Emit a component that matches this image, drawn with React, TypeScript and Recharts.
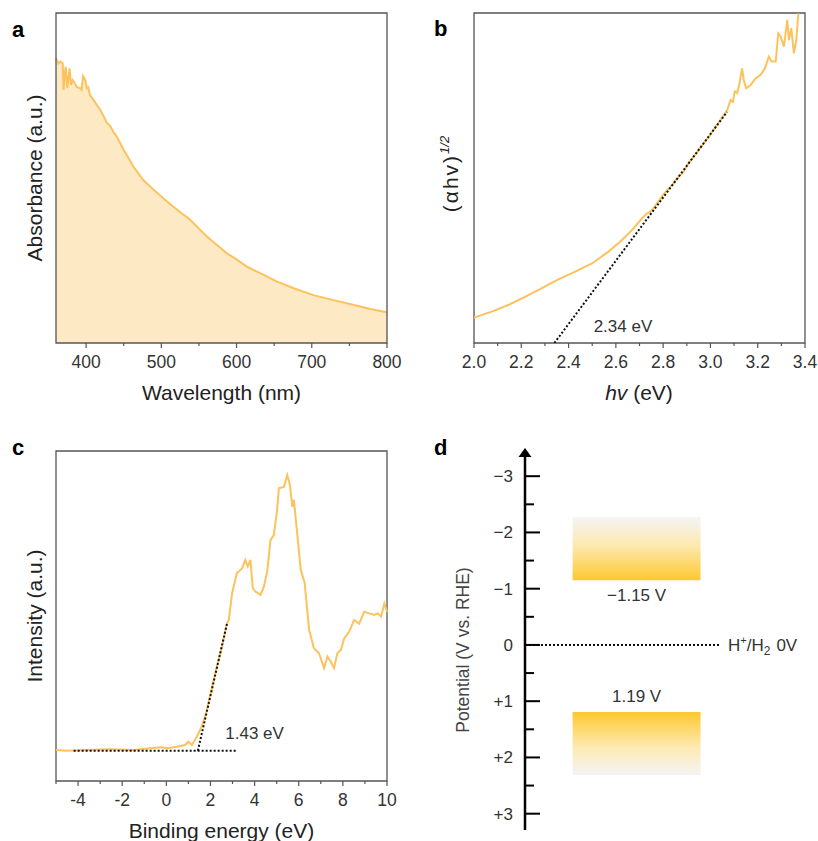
import React from "react";
import {
  AreaChart,
  Area,
  LineChart,
  Line,
  ComposedChart,
  XAxis,
  YAxis,
  ReferenceArea,
  ReferenceLine,
  ReferenceDot,
} from "recharts";

const FONT = '"Liberation Sans", Arial, sans-serif';
const ORANGE = "#fcc25c";
const FILL = "#fde9c4";
const FRAME = "#555";
const INK = "#333";

// (a) UV-vis absorbance
const wavelength = [
  360, 363, 366, 369, 370, 372, 373, 375, 378, 380, 382, 385, 388, 392, 394,
  396, 399, 401, 403, 405, 410, 419, 428, 432, 436, 441, 450, 454, 463, 476,
  490, 503, 516, 527, 536, 543, 552, 561, 574, 587, 601, 614, 632, 654, 676,
  702, 729, 756, 778, 800,
];
const absorbance = [
  0.863, 0.847, 0.853, 0.847, 0.767, 0.822, 0.837, 0.772, 0.832, 0.782, 0.797,
  0.787, 0.775, 0.772, 0.767, 0.809, 0.797, 0.772, 0.775, 0.752, 0.736, 0.706,
  0.666, 0.658, 0.64, 0.625, 0.585, 0.57, 0.534, 0.494, 0.464, 0.438, 0.413,
  0.393, 0.378, 0.363, 0.342, 0.322, 0.297, 0.272, 0.252, 0.231, 0.211, 0.186,
  0.166, 0.145, 0.13, 0.115, 0.103, 0.093,
];
const wlTicks = [400, 450, 500, 550, 600, 650, 700, 750, 800];
const wlLabels = [400, 500, 600, 700, 800];

// (b) Tauc plot
const photonEnergy = [
  2.0, 2.075, 2.145, 2.216, 2.287, 2.357, 2.428, 2.499, 2.569, 2.626, 2.668,
  2.711, 2.732, 2.742, 2.753, 2.774, 2.802, 2.838, 2.866, 2.887, 2.908, 2.951,
  2.993, 3.028, 3.057, 3.071, 3.078, 3.085, 3.095, 3.103, 3.113, 3.123, 3.134,
  3.141, 3.151, 3.17, 3.191, 3.212, 3.23, 3.247, 3.259, 3.276, 3.287, 3.297,
  3.311, 3.325, 3.332, 3.342, 3.353, 3.363, 3.372,
];
const tauc = [
  0.077, 0.095, 0.115, 0.14, 0.166, 0.193, 0.216, 0.241, 0.277, 0.312, 0.342,
  0.378, 0.393, 0.396, 0.403, 0.423, 0.451, 0.479, 0.504, 0.519, 0.545, 0.585,
  0.625, 0.661, 0.691, 0.706, 0.721, 0.736, 0.731, 0.762, 0.757, 0.787, 0.832,
  0.797, 0.772, 0.782, 0.802, 0.812, 0.832, 0.868, 0.853, 0.853, 0.938, 0.928,
  0.898, 0.979, 0.918, 0.954, 0.878, 0.918, 0.999,
];
const taucFitX = [2.34, 3.07];
const taucFitY = [0, 0.7];
const bandGap = 2.34;
const evTicks = [2.0, 2.1, 2.2, 2.3, 2.4, 2.5, 2.6, 2.7, 2.8, 2.9, 3.0, 3.1, 3.2, 3.3, 3.4];
const evLabels = [2.0, 2.2, 2.4, 2.6, 2.8, 3.0, 3.2, 3.4];

// (c) valence band spectrum
const bindingEnergy = [
  -5.0, -4.53, -3.62, -2.56, -1.5, -0.74, -0.21, 0.02, 0.47, 0.85, 1.0, 1.16,
  1.38, 1.61, 1.84, 2.07, 2.29, 2.52, 2.75, 2.83, 2.98, 3.2, 3.43, 3.58, 3.69,
  3.81, 3.92, 4.04, 4.27, 4.42, 4.57, 4.72, 4.87, 5.02, 5.1, 5.33, 5.48, 5.6,
  5.71, 5.78, 5.93, 6.09, 6.27, 6.47, 6.69, 6.92, 7.15, 7.3, 7.45, 7.6, 7.75,
  7.91, 8.06, 8.29, 8.51, 8.74, 8.97, 9.2, 9.42, 9.58, 9.73, 9.88, 10.0,
];
const intensity = [
  0.094, 0.092, 0.094, 0.096, 0.094, 0.099, 0.102, 0.099, 0.104, 0.109, 0.119,
  0.109, 0.134, 0.165, 0.215, 0.285, 0.346, 0.407, 0.477, 0.488, 0.569, 0.63,
  0.644, 0.67, 0.65, 0.67, 0.584, 0.574, 0.564, 0.589, 0.634, 0.73, 0.745,
  0.821, 0.887, 0.892, 0.927, 0.897, 0.831, 0.852, 0.75, 0.64, 0.6, 0.458,
  0.402, 0.387, 0.342, 0.377, 0.362, 0.342, 0.387, 0.397, 0.432, 0.453, 0.488,
  0.477, 0.513, 0.508, 0.503, 0.508, 0.498, 0.538, 0.513,
];
const vbBaseX = [-4.2, 3.15];
const vbBaseY = [0.092, 0.092];
const vbEdgeX = [1.43, 2.76];
const vbEdgeY = [0.092, 0.48];
const vbMax = 1.43;
const beTicks = [-5, -4, -3, -2, -1, 0, 1, 2, 3, 4, 5, 6, 7, 8, 9, 10];
const beLabels = [-4, -2, 0, 2, 4, 6, 8, 10];

// (d) band positions, V vs. RHE
const cbEdge = -1.15;
const vbEdge = 1.19;
const cbOuter = -2.27;
const vbOuter = 2.31;
const bandSpan = [1.7, 6.27];
const potTicks = [-3, -2.5, -2, -1.5, -1, -0.5, 0, 0.5, 1, 1.5, 2, 2.5, 3];

const absRows = wavelength.map((nm, i) => ({ x: nm, y: absorbance[i] }));
const taucRows = photonEnergy.map((e, i) => ({ x: e, y: tauc[i] }));
const taucFit = taucFitX.map((x, i) => ({ x, y: taucFitY[i] }));
const vbRows = bindingEnergy.map((e, i) => ({ x: e, y: intensity[i] }));
const vbBase = vbBaseX.map((x, i) => ({ x, y: vbBaseY[i] }));
const vbFit = vbEdgeX.map((x, i) => ({ x, y: vbEdgeY[i] }));
const bandRows = bandSpan.map((x) => ({ x, cb: cbEdge, vb: vbEdge }));

function BottomTick(props: any) {
  const { x, y, payload, labels, fmt } = props;
  const major = labels.includes(payload.value);
  return (
    <g>
      <line x1={x} x2={x} y1={y} y2={y + (major ? 5 : 3)} stroke={FRAME} strokeWidth={1.2} />
      {major && (
        <text x={x} y={y + 25} textAnchor="middle" fontSize={17.5} fill={INK}>
          {fmt(payload.value)}
        </text>
      )}
    </g>
  );
}

function PotentialTick(props: any) {
  const { x, y, payload } = props;
  const v = payload.value;
  const major = Number.isInteger(v);
  const label = v < 0 ? `\u2212${-v}` : v > 0 ? `+${v}` : "0";
  return (
    <g>
      <line x1={x} x2={x + (major ? 15 : 9)} y1={y} y2={y} stroke="#000" strokeWidth={2} />
      {major && (
        <text x={x - 12} y={y + 6} textAnchor="end" fontSize={17} fill={INK}>
          {label}
        </text>
      )}
    </g>
  );
}

const dotted = { stroke: "#111", strokeWidth: 2, strokeDasharray: "2 2" };

function AbsorbancePanel() {
  return (
    <AreaChart width={410} height={410} data={absRows} margin={{ top: 13, left: 56, right: 23, bottom: 37 }}>
      <XAxis
        type="number"
        dataKey="x"
        domain={[360, 800]}
        ticks={wlTicks}
        interval={0}
        height={30}
        axisLine={false}
        tickLine={false}
        tickSize={0}
        tickMargin={0}
        tick={(p: any) => <BottomTick {...p} labels={wlLabels} fmt={String} />}
      />
      <YAxis hide domain={[0, 1]} />
      <Area type="linear" dataKey="y" stroke={ORANGE} strokeWidth={2} fill={FILL} fillOpacity={1} isAnimationActive={false} />
      <ReferenceArea x1={360} x2={800} y1={0} y2={1} fill="none" stroke={FRAME} strokeWidth={1.3} />
    </AreaChart>
  );
}

function TaucPanel() {
  return (
    <LineChart width={410} height={410} margin={{ top: 13, left: 66, right: 13, bottom: 37 }}>
      <XAxis
        type="number"
        dataKey="x"
        domain={[2.0, 3.4]}
        ticks={evTicks}
        interval={0}
        height={30}
        axisLine={false}
        tickLine={false}
        tickSize={0}
        tickMargin={0}
        tick={(p: any) => <BottomTick {...p} labels={evLabels} fmt={(v: number) => v.toFixed(1)} />}
      />
      <YAxis hide domain={[0, 1]} allowDataOverflow />
      <Line data={taucRows} dataKey="y" type="linear" stroke={ORANGE} strokeWidth={2} dot={false} isAnimationActive={false} />
      <Line data={taucFit} dataKey="y" type="linear" {...dotted} dot={false} isAnimationActive={false} />
      <ReferenceDot
        x={bandGap + 0.29}
        y={0.05}
        r={0}
        shape={(p: any) => (
          <text x={p.cx} y={p.cy} textAnchor="middle" dominantBaseline="central" fontSize={17} fill={INK}>
            {`${bandGap} eV`}
          </text>
        )}
      />
      <ReferenceArea x1={2.0} x2={3.4} y1={0} y2={1} fill="none" stroke={FRAME} strokeWidth={1.3} />
    </LineChart>
  );
}

function ValencePanel() {
  return (
    <LineChart width={410} height={421} margin={{ top: 31, left: 56, right: 23, bottom: 30 }}>
      <XAxis
        type="number"
        dataKey="x"
        domain={[-5, 10]}
        ticks={beTicks}
        interval={0}
        height={30}
        axisLine={false}
        tickLine={false}
        tickSize={0}
        tickMargin={0}
        tick={(p: any) => <BottomTick {...p} labels={beLabels} fmt={String} />}
      />
      <YAxis hide domain={[0, 1]} />
      <Line data={vbRows} dataKey="y" type="linear" stroke={ORANGE} strokeWidth={2} dot={false} isAnimationActive={false} />
      <Line data={vbBase} dataKey="y" type="linear" {...dotted} dot={false} isAnimationActive={false} />
      <Line data={vbFit} dataKey="y" type="linear" {...dotted} dot={false} isAnimationActive={false} />
      <ReferenceDot
        x={vbMax + 2.57}
        y={0.145}
        r={0}
        shape={(p: any) => (
          <text x={p.cx} y={p.cy} textAnchor="middle" dominantBaseline="central" fontSize={17} fill={INK}>
            {`${vbMax} eV`}
          </text>
        )}
      />
      <ReferenceArea x1={-5} x2={10} y1={0} y2={1} fill="none" stroke={FRAME} strokeWidth={1.3} />
    </LineChart>
  );
}

function BandPanel() {
  return (
    <ComposedChart width={410} height={421} data={bandRows} margin={{ top: 32, left: 0, right: 13, bottom: 11 }}>
      <defs>
        <linearGradient id="cbFill" x1="0" y1="0" x2="0" y2="1">
          <stop offset="0" stopColor="#f4f4f4" />
          <stop offset="0.45" stopColor="#fde9b0" />
          <stop offset="1" stopColor="#fdc82e" />
        </linearGradient>
        <linearGradient id="vbFill" x1="0" y1="0" x2="0" y2="1">
          <stop offset="0" stopColor="#fdc82e" />
          <stop offset="0.55" stopColor="#fde9b0" />
          <stop offset="1" stopColor="#f4f4f4" />
        </linearGradient>
      </defs>
      <XAxis type="number" dataKey="x" domain={[0, 10]} allowDataOverflow hide />
      <YAxis
        type="number"
        domain={[-3.43, 3.29]}
        reversed
        allowDataOverflow
        ticks={potTicks}
        interval={0}
        width={117}
        axisLine={{ stroke: "#000", strokeWidth: 2.5 }}
        tickLine={false}
        tickSize={0}
        tickMargin={0}
        tick={(p: any) => <PotentialTick {...p} />}
      />
      {/* edge levels carried as invisible series so the chart has something to lay out */}
      <Line dataKey="cb" stroke="none" dot={false} activeDot={false} isAnimationActive={false} />
      <Line dataKey="vb" stroke="none" dot={false} activeDot={false} isAnimationActive={false} />
      <ReferenceArea
        x1={bandSpan[0]}
        x2={bandSpan[1]}
        y1={cbOuter}
        y2={cbEdge}
        fill="url(#cbFill)"
        fillOpacity={1}
        stroke="none"
        label={{ value: `\u2212${-cbEdge} V`, position: "bottom", offset: 9, fill: INK, fontSize: 17 }}
      />
      <ReferenceArea
        x1={bandSpan[0]}
        x2={bandSpan[1]}
        y1={vbEdge}
        y2={vbOuter}
        fill="url(#vbFill)"
        fillOpacity={1}
        stroke="none"
        label={{ value: `${vbEdge} V`, position: "top", offset: 10, fill: INK, fontSize: 17 }}
      />
      <ReferenceLine segment={[{ x: 0, y: 0 }, { x: 6.98, y: 0 }]} {...dotted} />
      <ReferenceDot
        x={7.25}
        y={0}
        r={0}
        ifOverflow="visible"
        shape={(p: any) => (
          <text x={p.cx} y={p.cy + 6} fontSize={17} fill={INK}>
            H
            <tspan fontSize={11} dy={-7}>+</tspan>
            <tspan dy={7}>/H</tspan>
            <tspan fontSize={12} dy={4}>2</tspan>
            <tspan dy={-4} dx={6}>0V</tspan>
          </text>
        )}
      />
      <ReferenceDot
        x={0}
        y={-3.43}
        r={0}
        ifOverflow="visible"
        shape={(p: any) => (
          <path d={`M${p.cx - 6.5},${p.cy + 5} L${p.cx},${p.cy - 4} L${p.cx + 6.5},${p.cy + 5} Z`} fill="#000" />
        )}
      />
    </ComposedChart>
  );
}

export default function App() {
  const place = (left: number, top: number): React.CSSProperties => ({ position: "absolute", left, top });
  return (
    <div style={{ position: "absolute", left: 0, top: 0, width: 818, height: 841, background: "#fff", fontFamily: FONT, overflow: "hidden" }}>
      <div style={place(0, 0)}><AbsorbancePanel /></div>
      <div style={place(408, 0)}><TaucPanel /></div>
      <div style={place(0, 420)}><ValencePanel /></div>
      <div style={place(408, 420)}><BandPanel /></div>

      {/* panel letters and axis titles */}
      <svg width={818} height={841} style={{ position: "absolute", left: 0, top: 0, pointerEvents: "none" }}>
        <g fontSize={22} fontWeight="bold" fill="#000">
          <text x={12} y={37}>a</text>
          <text x={434} y={36}>b</text>
          <text x={12} y={455}>c</text>
          <text x={434} y={455}>d</text>
        </g>
        <g fontSize={21} fill="#222" textAnchor="middle">
          <text x={221.5} y={400}>Wavelength (nm)</text>
          <text x={42} y={178} transform="rotate(-90 42 178)">Absorbance (a.u.)</text>
          <text x={639} y={400}>
            <tspan fontStyle="italic">hv</tspan> (eV)
          </text>
          <text x={458} y={174} transform="rotate(-90 458 174)" letterSpacing={2}>
            (αhv)
            <tspan fontSize={13} fontStyle="italic" dy={-9} letterSpacing={0}>1/2</tspan>
          </text>
          <text x={42} y={616} transform="rotate(-90 42 616)">Intensity (a.u.)</text>
          <text x={221.5} y={838}>Binding energy (eV)</text>
        </g>
        <text x={469} y={650} transform="rotate(-90 469 650)" textAnchor="middle" fontSize={17.5} fill="#444">
          Potential (V vs. RHE)
        </text>
      </svg>
    </div>
  );
}
